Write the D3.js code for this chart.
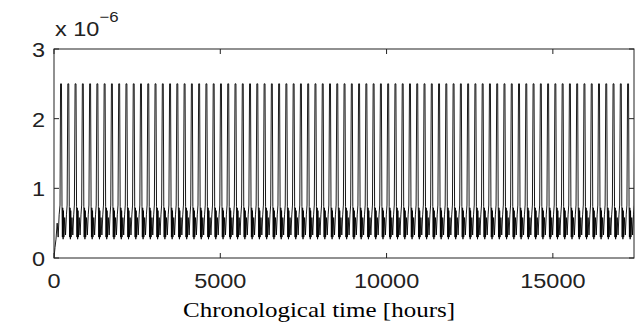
<!DOCTYPE html>
<html>
<head>
<meta charset="utf-8">
<script src="https://cdn.jsdelivr.net/npm/d3@7"></script>
<style>
  body { margin: 0; background: #fff; }
  svg { display: block; }
</style>
</head>
<body>
<svg id="chart" width="641" height="326"></svg>
<script>
// values in units of 1e-6
const startUp = [[0, 0], [30, 0.15], [60, 0.27], [95, 0.5], [125, 0.3], [155, 0.62], [181, 0.76]]; // initial rise, [hour, value]
// one cycle, [hour offset, value]: spike up, flat top, drop, dense dip, sparse wobble, recovery
const cycleProfile = [[0, 2.5], [28, 2.5], [44, 0.74], [55, 0.3], [66, 0.72], [77, 0.27], [88, 0.68],
                      [100, 0.3], [124, 0.58], [150, 0.33], [177, 0.62], [198, 0.76]];
const firstPeak = 197;
const cyclePeriod = 218.6;
const cycleCount = 80;
const xTicks = [0, 5000, 10000, 15000];
const yTicks = [0, 1, 2, 3];

const series = startUp.slice();
for (let c = 0; c < cycleCount; c++) {
    const t0 = firstPeak + c * cyclePeriod;
    cycleProfile.forEach(p => series.push([t0 + p[0], p[1]]));
}

const svg = d3.select('#chart');
const margin = { top: 49, right: 7, bottom: 68, left: 54 };
const width = +svg.attr('width');
const height = +svg.attr('height');
const xMax = 17440;

const xScale = d3.scaleLinear().domain([0, xMax]).range([margin.left, width - margin.right]);
const yScale = d3.scaleLinear().domain([0, 3]).range([height - margin.bottom, margin.top]);

svg.append('defs').append('clipPath').attr('id', 'plot-clip')
    .append('rect')
    .attr('x', margin.left).attr('y', margin.top)
    .attr('width', width - margin.left - margin.right)
    .attr('height', height - margin.top - margin.bottom);

// data line
const line = d3.line().x(d => xScale(d[0])).y(d => yScale(d[1]));
svg.append('path')
    .datum(series.filter(d => d[0] <= xMax + 300))
    .attr('clip-path', 'url(#plot-clip)')
    .attr('fill', 'none')
    .attr('stroke', '#000')
    .attr('stroke-width', 0.9)
    .attr('d', line);

// box frame
const x0 = xScale(0), x1 = xScale(xMax), y0 = yScale(0), y1 = yScale(3);
svg.append('rect')
    .attr('x', x0).attr('y', y1)
    .attr('width', x1 - x0).attr('height', y0 - y1)
    .attr('fill', 'none').attr('stroke', '#222').attr('stroke-width', 1);

// inward ticks, matlab style
const tickLen = 5;
const tickG = svg.append('g').attr('stroke', '#222').attr('stroke-width', 1);
xTicks.forEach(t => {
    const x = xScale(t);
    tickG.append('line').attr('x1', x).attr('x2', x).attr('y1', y0).attr('y2', y0 - tickLen);
    tickG.append('line').attr('x1', x).attr('x2', x).attr('y1', y1).attr('y2', y1 + tickLen);
});
yTicks.forEach(t => {
    const y = yScale(t);
    tickG.append('line').attr('x1', x0).attr('x2', x0 + tickLen).attr('y1', y).attr('y2', y);
    tickG.append('line').attr('x1', x1).attr('x2', x1 - tickLen).attr('y1', y).attr('y2', y);
});

const sans = '"Liberation Sans", Arial, sans-serif';
const stretch = 1.12;

// tick labels
svg.append('g').selectAll('text').data(xTicks).join('text')
    .attr('transform', d => `translate(${xScale(d)},288) scale(${stretch},1)`)
    .attr('text-anchor', 'middle')
    .attr('font-family', sans).attr('font-size', 21).attr('fill', '#222')
    .text(d => d);

svg.append('g').selectAll('text').data(yTicks).join('text')
    .attr('transform', d => `translate(45,${yScale(d) + 8}) scale(${stretch},1)`)
    .attr('text-anchor', 'end')
    .attr('font-family', sans).attr('font-size', 21).attr('fill', '#222')
    .text(d => d);

// exponent label
const expo = svg.append('text')
    .attr('transform', `translate(55,36) scale(${stretch},1)`)
    .attr('font-family', sans).attr('font-size', 21).attr('fill', '#222');
expo.append('tspan').text('x 10');
expo.append('tspan').attr('dy', -14).attr('font-size', 15).text('\u22126');

// x axis title
svg.append('text')
    .attr('x', 319).attr('y', 317)
    .attr('text-anchor', 'middle')
    .attr('font-family', '"Liberation Serif", "Times New Roman", serif')
    .attr('font-size', 22).attr('fill', '#000')
    .attr('textLength', 272).attr('lengthAdjust', 'spacingAndGlyphs')
    .text('Chronological time [hours]');
</script>
</body>
</html>
